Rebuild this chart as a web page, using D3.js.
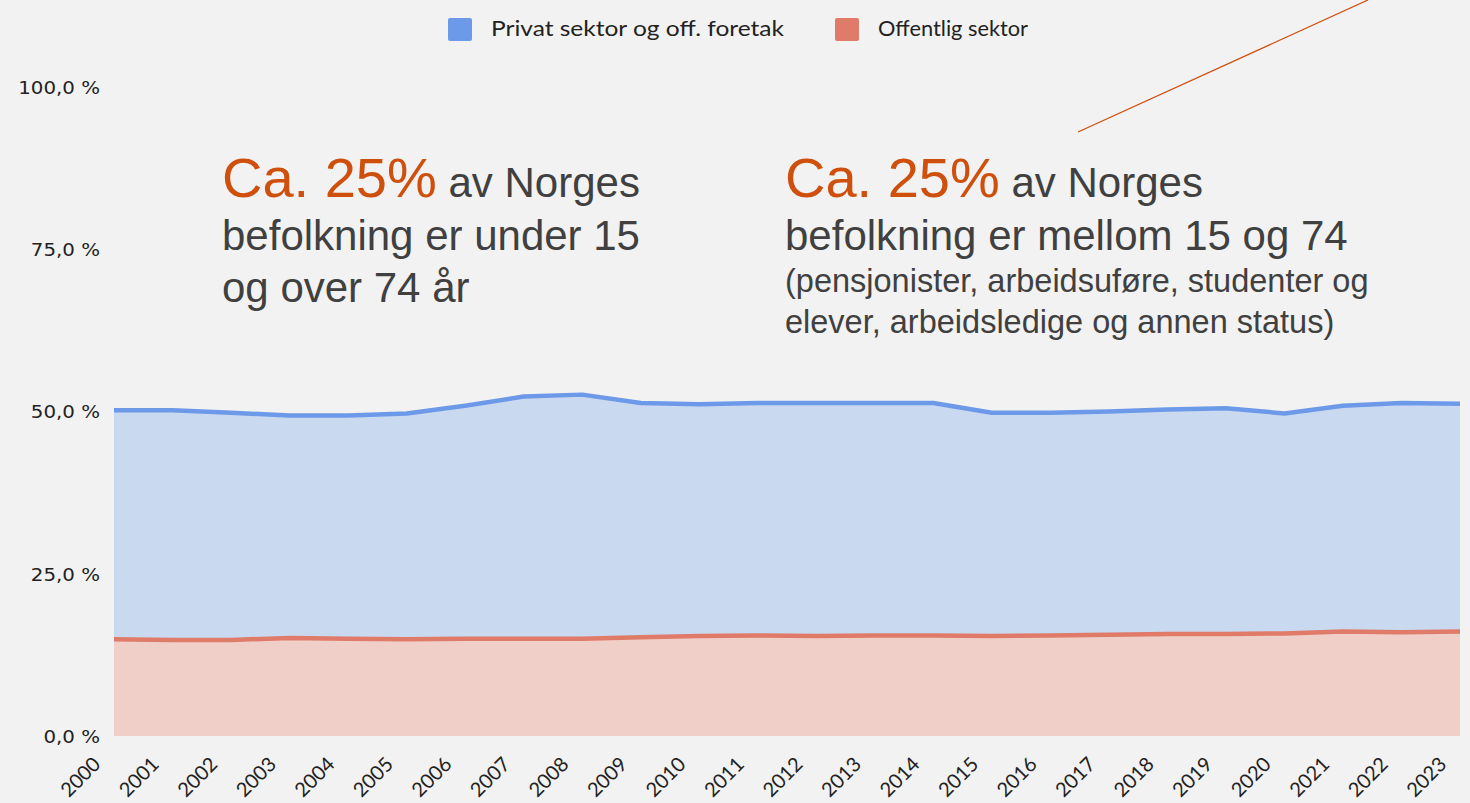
<!DOCTYPE html>
<html>
<head>
<meta charset="utf-8">
<script src="https://cdn.jsdelivr.net/npm/d3@7"></script>
<style>
  html, body { margin: 0; padding: 0; background: #f2f2f2; }
  svg { display: block; }
</style>
</head>
<body>
<div id="chart"></div>
<script>
// years on the x axis
var years = [2000, 2001, 2002, 2003, 2004, 2005, 2006, 2007, 2008, 2009, 2010, 2011,
             2012, 2013, 2014, 2015, 2016, 2017, 2018, 2019, 2020, 2021, 2022, 2023];

// share of population (%), stacked: offentlig at the bottom, privat on top
var offentlig = [14.9, 14.8, 14.8, 15.1, 15.0, 14.9, 15.0, 15.0, 15.0, 15.2, 15.4, 15.5,
                 15.4, 15.5, 15.5, 15.4, 15.5, 15.6, 15.7, 15.7, 15.8, 16.1, 16.0, 16.1];
var privat = [35.3, 35.4, 35.0, 34.3, 34.4, 34.8, 35.9, 37.3, 37.6, 36.1, 35.7, 35.8,
              35.9, 35.8, 35.8, 34.4, 34.3, 34.4, 34.6, 34.8, 33.9, 34.8, 35.3, 35.1];

var yTicks = [0, 25, 50, 75, 100];
var seriesNames = ["Privat sektor og off. foretak", "Offentlig sektor"];

var width = 1470, height = 803;

var svg = d3.select('#chart').append('svg')
    .attr('width', width)
    .attr('height', height);

var table = years.map(function(y, i) {
  return { year: y, offentlig: offentlig[i], privat: privat[i] };
});

var stack = d3.stack().keys(['offentlig', 'privat']);
var layers = stack(table);

var xScale = d3.scaleLinear()
    .domain([years[0], years[years.length - 1]])
    .range([114, 1460]);

var yScale = d3.scaleLinear()
    .domain([0, 100])
    .range([736, 87]);

var colors = {
  offentlig: { fill: '#efcfc8', line: '#df7b68' },
  privat:    { fill: '#c9d9f0', line: '#6d9ae8' }
};

var area = d3.area()
    .x(function(d) { return xScale(d.data.year); })
    .y0(function(d) { return yScale(d[0]); })
    .y1(function(d) { return yScale(d[1]); });

var topLine = d3.line()
    .x(function(d) { return xScale(d.data.year); })
    .y(function(d) { return yScale(d[1]); });

svg.append('g')
  .selectAll('path')
  .data(layers)
  .enter()
  .append('path')
    .attr('d', area)
    .attr('fill', function(d) { return colors[d.key].fill; });

svg.append('g')
  .selectAll('path')
  .data(layers)
  .enter()
  .append('path')
    .attr('d', topLine)
    .attr('fill', 'none')
    .attr('stroke', function(d) { return colors[d.key].line; })
    .attr('stroke-width', 4.5)
    .attr('stroke-linejoin', 'round');

// y axis labels (no axis line, labels only)
var yAxis = d3.axisLeft(yScale)
    .tickValues(yTicks)
    .tickSize(0)
    .tickFormat(function(d) { return d3.format('.1f')(d).replace('.', ',') + ' %'; });

var yG = svg.append('g')
    .attr('transform', 'translate(100,0)')
    .call(yAxis);
yG.select('.domain').remove();
yG.selectAll('text')
    .attr('x', 0)
    .attr('dy', '0.35em')
    .attr('font-family', 'DejaVu Sans, Verdana, sans-serif')
    .attr('font-size', '18px')
    .attr('fill', '#222')
    .attr('text-anchor', 'end')
    .attr('transform', 'scale(1.1,1)');

// x axis labels, rotated
var xAxis = d3.axisBottom(xScale)
    .tickValues(years)
    .tickSize(0)
    .tickFormat(d3.format('d'));

var xG = svg.append('g')
    .attr('transform', 'translate(0,750)')
    .call(xAxis);
xG.select('.domain').remove();
xG.selectAll('text')
    .attr('font-family', 'Lato, Open Sans, sans-serif')
    .attr('font-size', '20px')
    .attr('fill', '#222')
    .attr('text-anchor', 'end')
    .attr('x', -20)
    .attr('y', 2)
    .attr('dy', 0)
    .attr('transform', 'rotate(-45)');

// legend
var legend = svg.append('g').attr('class', 'legend');
var legendItems = [
  { name: seriesNames[0], color: colors.privat.line, x: 448, len: 293 },
  { name: seriesNames[1], color: colors.offentlig.line, x: 835, len: 150 }
];
legendItems.forEach(function(it) {
  legend.append('rect')
    .attr('x', it.x).attr('y', 18)
    .attr('width', 24).attr('height', 23)
    .attr('rx', 2)
    .attr('fill', it.color);
  legend.append('text')
    .attr('x', it.x + 43).attr('y', 36)
    .attr('font-family', 'Lato, Open Sans, sans-serif')
    .attr('font-size', '21px')
    .attr('fill', '#222')
    .attr('textLength', it.len)
    .attr('lengthAdjust', 'spacingAndGlyphs')
    .text(it.name);
});

// annotations
var orange = '#cf4f0c', grey = '#404040';
var notes = svg.append('g')
    .attr('font-family', 'Liberation Sans, Arial, sans-serif');

function headline(x, y) {
  var t = notes.append('text').attr('x', x).attr('y', y);
  t.append('tspan').attr('fill', orange).attr('font-size', '56px').text('Ca. 25%');
  t.append('tspan').attr('fill', grey).attr('font-size', '42px').text(' av Norges');
}
headline(222, 197);
notes.append('text').attr('x', 222).attr('y', 250)
    .attr('fill', grey).attr('font-size', '42px').text('befolkning er under 15');
notes.append('text').attr('x', 222).attr('y', 302)
    .attr('fill', grey).attr('font-size', '42px').text('og over 74 år');

headline(785, 197);
notes.append('text').attr('x', 785).attr('y', 250)
    .attr('fill', grey).attr('font-size', '42px').text('befolkning er mellom 15 og 74');
notes.append('text').attr('x', 785).attr('y', 292)
    .attr('fill', grey).attr('font-size', '32.5px').text('(pensjonister, arbeidsuføre, studenter og');
notes.append('text').attr('x', 785).attr('y', 333)
    .attr('fill', grey).attr('font-size', '32.5px').text('elever, arbeidsledige og annen status)');

// pointer line toward the top right
svg.append('line')
    .attr('x1', 1078).attr('y1', 132)
    .attr('x2', 1368).attr('y2', 0)
    .attr('stroke', orange)
    .attr('stroke-width', 1.3);
</script>
</body>
</html>
